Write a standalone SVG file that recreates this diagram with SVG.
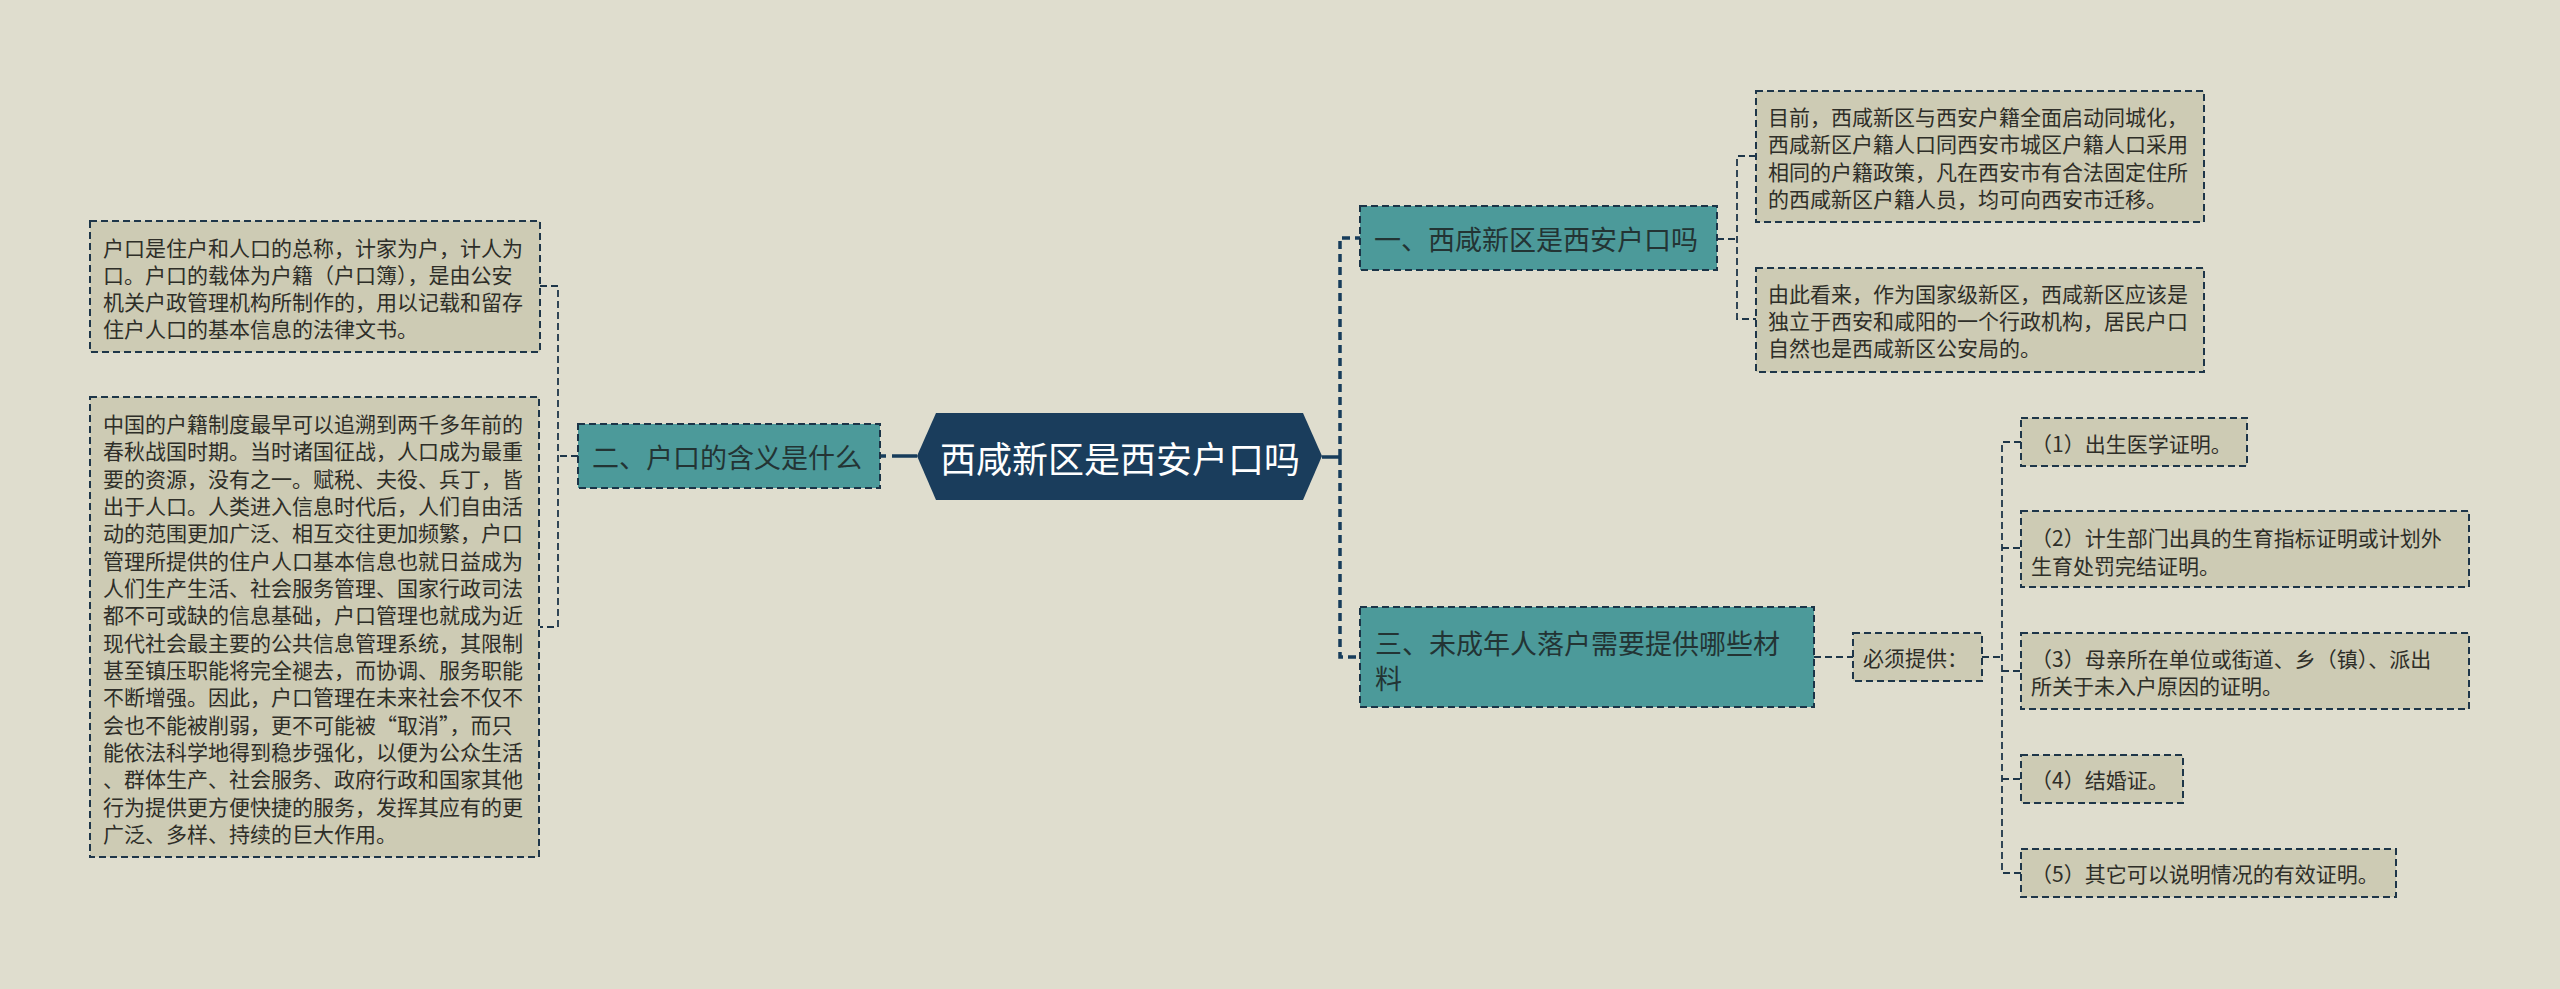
<svg xmlns="http://www.w3.org/2000/svg" width="2560" height="989" viewBox="0 0 2560 989">
<style>
text{font-family:"Noto Sans CJK SC","Noto Sans",sans-serif;dominant-baseline:central}
.leaf rect{fill:#cdcbb4;stroke:#1e3649;stroke-width:2;stroke-dasharray:7 4}
.leaf text{font-size:21px;fill:#2e2e28}
.topic rect{fill:#4c9a9a;stroke:#1b3447;stroke-width:2;stroke-dasharray:7 4}
.topic text{font-size:27px;fill:#233434}
.thin{fill:none;stroke:#1e3649;stroke-width:1.8;stroke-dasharray:7 4}
.thick{fill:none;stroke:#173c5b;stroke-width:3.5;stroke-dasharray:8 5}
.solid{fill:none;stroke:#173c5b;stroke-width:3.5}
</style>
<rect x="0" y="0" width="2560" height="989" fill="#dfddce"/>

<g id="connectors">
  <path class="solid" d="M917 456 H892"/>
  <path class="solid" d="M886 456 H880"/>
  <path class="solid" d="M1322 457 H1340"/>
  <path class="thick" d="M1340 457 V238 H1360"/>
  <path class="thick" d="M1340 457 V657 H1360"/>
  <path class="thin" d="M578 456 H558"/>
  <path class="thin" d="M540 286 H558 V627 H540"/>
  <path class="thin" d="M1717 239 H1737"/>
  <path class="thin" d="M1756 156 H1737 V319 H1756"/>
  <path class="thin" d="M1814 657 H1853"/>
  <path class="thin" d="M1982 657 H2002"/>
  <path class="thin" d="M2021 442 H2002 V873 H2021"/>
  <path class="thin" d="M2002 548 H2021"/>
  <path class="thin" d="M2002 671 H2021"/>
  <path class="thin" d="M2002 779 H2021"/>
</g>

<g id="root">
  <polygon points="917,456 936,413 1303,413 1322,456 1303,500 936,500" fill="#1a3d5c"/>
  <text x="1120" y="457" text-anchor="middle" font-size="36" fill="#ffffff">西咸新区是西安户口吗</text>
</g>

<g id="topic2" class="topic">
  <rect x="578" y="424" width="302" height="64"/>
  <text x="592" y="456">二、户口的含义是什么</text>
</g>

<g id="topic1" class="topic">
  <rect x="1360" y="206" width="357" height="64"/>
  <text x="1374" y="238">一、西咸新区是西安户口吗</text>
</g>

<g id="topic3" class="topic">
  <rect x="1360" y="607" width="454" height="100"/>
  <text x="1375" y="642">三、未成年人落户需要提供哪些材</text>
  <text x="1375" y="677">料</text>
</g>

<g id="leaf-huokou-def" class="leaf">
  <rect x="90" y="221" width="450" height="131"/>
  <text x="103" y="247">户口是住户和人口的总称，计家为户，计人为</text>
  <text x="103" y="274">口。户口的载体为户籍（户口簿），是由公安</text>
  <text x="103" y="301">机关户政管理机构所制作的，用以记载和留存</text>
  <text x="103" y="328">住户人口的基本信息的法律文书。</text>
</g>

<g id="leaf-huokou-history" class="leaf">
  <rect x="90" y="397" width="449" height="460"/>
  <text x="103" y="423">中国的户籍制度最早可以追溯到两千多年前的</text>
  <text x="103" y="450.3">春秋战国时期。当时诸国征战，人口成为最重</text>
  <text x="103" y="477.7">要的资源，没有之一。赋税、夫役、兵丁，皆</text>
  <text x="103" y="505">出于人口。人类进入信息时代后，人们自由活</text>
  <text x="103" y="532.3">动的范围更加广泛、相互交往更加频繁，户口</text>
  <text x="103" y="559.7">管理所提供的住户人口基本信息也就日益成为</text>
  <text x="103" y="587">人们生产生活、社会服务管理、国家行政司法</text>
  <text x="103" y="614.3">都不可或缺的信息基础，户口管理也就成为近</text>
  <text x="103" y="641.7">现代社会最主要的公共信息管理系统，其限制</text>
  <text x="103" y="669">甚至镇压职能将完全褪去，而协调、服务职能</text>
  <text x="103" y="696.3">不断增强。因此，户口管理在未来社会不仅不</text>
  <text x="103" y="723.7">会也不能被削弱，更不可能被“取消”，而只</text>
  <text x="103" y="751">能依法科学地得到稳步强化，以便为公众生活</text>
  <text x="103" y="778.3">、群体生产、社会服务、政府行政和国家其他</text>
  <text x="103" y="805.7">行为提供更方便快捷的服务，发挥其应有的更</text>
  <text x="103" y="833">广泛、多样、持续的巨大作用。</text>
</g>

<g id="leaf-current" class="leaf">
  <rect x="1756" y="91" width="448" height="131"/>
  <text x="1768" y="116">目前，西咸新区与西安户籍全面启动同城化，</text>
  <text x="1768" y="143.3">西咸新区户籍人口同西安市城区户籍人口采用</text>
  <text x="1768" y="170.7">相同的户籍政策，凡在西安市有合法固定住所</text>
  <text x="1768" y="198">的西咸新区户籍人员，均可向西安市迁移。</text>
</g>

<g id="leaf-conclusion" class="leaf">
  <rect x="1756" y="268" width="448" height="104"/>
  <text x="1768" y="293">由此看来，作为国家级新区，西咸新区应该是</text>
  <text x="1768" y="320">独立于西安和咸阳的一个行政机构，居民户口</text>
  <text x="1768" y="347">自然也是西咸新区公安局的。</text>
</g>

<g id="leaf-must" class="leaf">
  <rect x="1853" y="633" width="129" height="48"/>
  <text x="1863" y="657">必须提供：</text>
</g>

<g id="leaf-1" class="leaf">
  <rect x="2021" y="418" width="226" height="48"/>
  <text x="2031" y="443">（1）出生医学证明。</text>
</g>

<g id="leaf-2" class="leaf">
  <rect x="2021" y="511" width="448" height="76"/>
  <text x="2031" y="537">（2）计生部门出具的生育指标证明或计划外</text>
  <text x="2031" y="565">生育处罚完结证明。</text>
</g>

<g id="leaf-3" class="leaf">
  <rect x="2021" y="633" width="448" height="76"/>
  <text x="2031" y="658">（3）母亲所在单位或街道、乡（镇）、派出</text>
  <text x="2031" y="685">所关于未入户原因的证明。</text>
</g>

<g id="leaf-4" class="leaf">
  <rect x="2021" y="755" width="162" height="48"/>
  <text x="2031" y="779">（4）结婚证。</text>
</g>

<g id="leaf-5" class="leaf">
  <rect x="2021" y="849" width="375" height="48"/>
  <text x="2031" y="873">（5）其它可以说明情况的有效证明。</text>
</g>
</svg>
